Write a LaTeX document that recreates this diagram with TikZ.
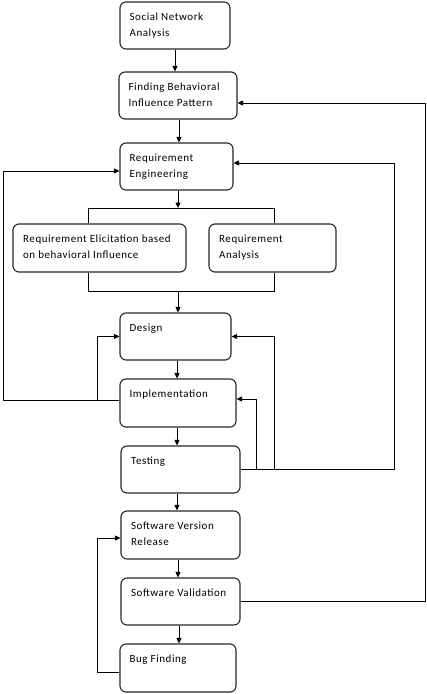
\documentclass[tikz,border=0pt]{standalone}
\usepackage{fontspec}
\setmainfont{Carlito}[LetterSpace=5]
\usetikzlibrary{arrows.meta,calc}
\begin{document}
\begin{tikzpicture}[x=1pt,y=-1pt,
  box/.style={draw=black!85, line width=1.1pt, rounded corners=6pt, inner sep=0pt},
  txt/.style={anchor=base west, inner sep=0pt, align=left, font=\fontsize{11}{16}\selectfont},
  arr/.style={-{Triangle[length=5.5pt,width=5pt]}, line width=0.8pt},
  ln/.style={line width=0.8pt}]
\useasboundingbox (0,0) rectangle (427,694);
% boxes
\node[box, minimum width=110pt, minimum height=47pt] (A) at (175,25.5) {};
\node[box, minimum width=118pt, minimum height=47pt] (B) at (178,95.5) {};
\node[box, minimum width=113pt, minimum height=47pt] (C) at (176.5,166.5) {};
\node[box, minimum width=173pt, minimum height=48pt] (D) at (99.5,248) {};
\node[box, minimum width=127pt, minimum height=48pt] (E) at (272.5,248) {};
\node[box, minimum width=111pt, minimum height=47pt] (F) at (175.5,336.5) {};
\node[box, minimum width=116pt, minimum height=48pt] (G) at (178,403) {};
\node[box, minimum width=119pt, minimum height=47pt] (H) at (180.5,469.5) {};
\node[box, minimum width=119pt, minimum height=48pt] (I) at (180.5,535) {};
\node[box, minimum width=119pt, minimum height=47pt] (J) at (180.5,601.5) {};
\node[box, minimum width=116pt, minimum height=48pt] (K) at (178,668) {};
% texts (base anchor = last line baseline)
\node[txt] (tA) at ([shift={(10,35.5)}]A.north west) {Social Network\\Analysis};
\node[txt] (tB) at ([shift={(10,35.5)}]B.north west) {Finding Behavioral\\Influence Pattern};
\node[txt] (tC) at ([shift={(10,35.5)}]C.north west) {Requirement\\Engineering};
\node[txt] (tD) at ([shift={(10.5,35.5)}]D.north west) {Requirement Elicitation based\\on behavioral Influence};
\node[txt] (tE) at ([shift={(10.5,35.5)}]E.north west) {Requirement\\Analysis};
\node[txt] (tF) at ([shift={(10,19)}]F.north west) {Design};
\node[txt] (tG) at ([shift={(10,19.5)}]G.north west) {Implementation};
\node[txt] (tH) at ([shift={(10.5,19)}]H.north west) {Testing};
\node[txt] (tI) at ([shift={(10.5,35.5)}]I.north west) {Software Version\\Release};
\node[txt] (tJ) at ([shift={(10.5,19)}]J.north west) {Software Validation};
\node[txt] (tK) at ([shift={(10,19.5)}]K.north west) {Bug Finding};
% x positions
\coordinate (x175) at (175,0);
\coordinate (x177) at (177,0);
\coordinate (x178) at (178,0);
\coordinate (x179) at (179,0);
\coordinate (tl) at (88,208);
\coordinate (tm) at (178,208);
\coordinate (tr) at (274,208);
\coordinate (bl) at (88,291);
\coordinate (bm) at (178,291);
\coordinate (br) at (274,291);
\coordinate (lx) at (3,0);
\coordinate (mx) at (97,0);
\coordinate (r1) at (256,0);
\coordinate (r2) at (274,0);
\coordinate (r3) at (394,0);
\coordinate (r4) at (425,0);
% main flow
\draw[arr] (A.south -| x175) -- (B.north -| x175);
\draw[arr] (B.south -| x179) -- (C.north -| x179);
\draw[arr] (C.south -| tm) -- (tm);
\draw[ln] (D.north -| tl) -- (tl) -- (tr) -- (E.north -| tr);
\draw[ln] (D.south -| bl) -- (bl) -- (br) -- (E.south -| br);
\draw[arr] (bm) -- (F.north -| bm);
\draw[arr] (F.south -| x177) -- (G.north -| x177);
\draw[arr] (G.south -| x177) -- (H.north -| x177);
\draw[arr] (H.south -| x177) -- (I.north -| x177);
\draw[arr] (I.south -| x178) -- (J.north -| x178);
\draw[arr] (J.south -| x179) -- (K.north -| x179);
% feedback
\draw[arr] ([yshift=3pt]G.west) -- ([yshift=3pt]G.west -| lx) |- ([yshift=-4.5pt]C.west);
\draw[arr] ([yshift=3pt]G.west -| mx) |- (F.west);
\draw[ln] (H.east) -- (H.east -| r3);
\draw[arr] (H.east -| r3) |- ([yshift=3.5pt]C.east);
\draw[arr] (H.east -| r2) |- (F.east);
\draw[arr] (H.east -| r1) |- ([yshift=4pt]G.east);
\draw[arr] (J.east) -- (J.east -| r4) |- ([yshift=-7.5pt]B.east);
\draw[arr] ([yshift=-4pt]K.west) -- ([yshift=-4pt]K.west -| mx) |- ([yshift=-3pt]I.west);
\end{tikzpicture}
\end{document}
